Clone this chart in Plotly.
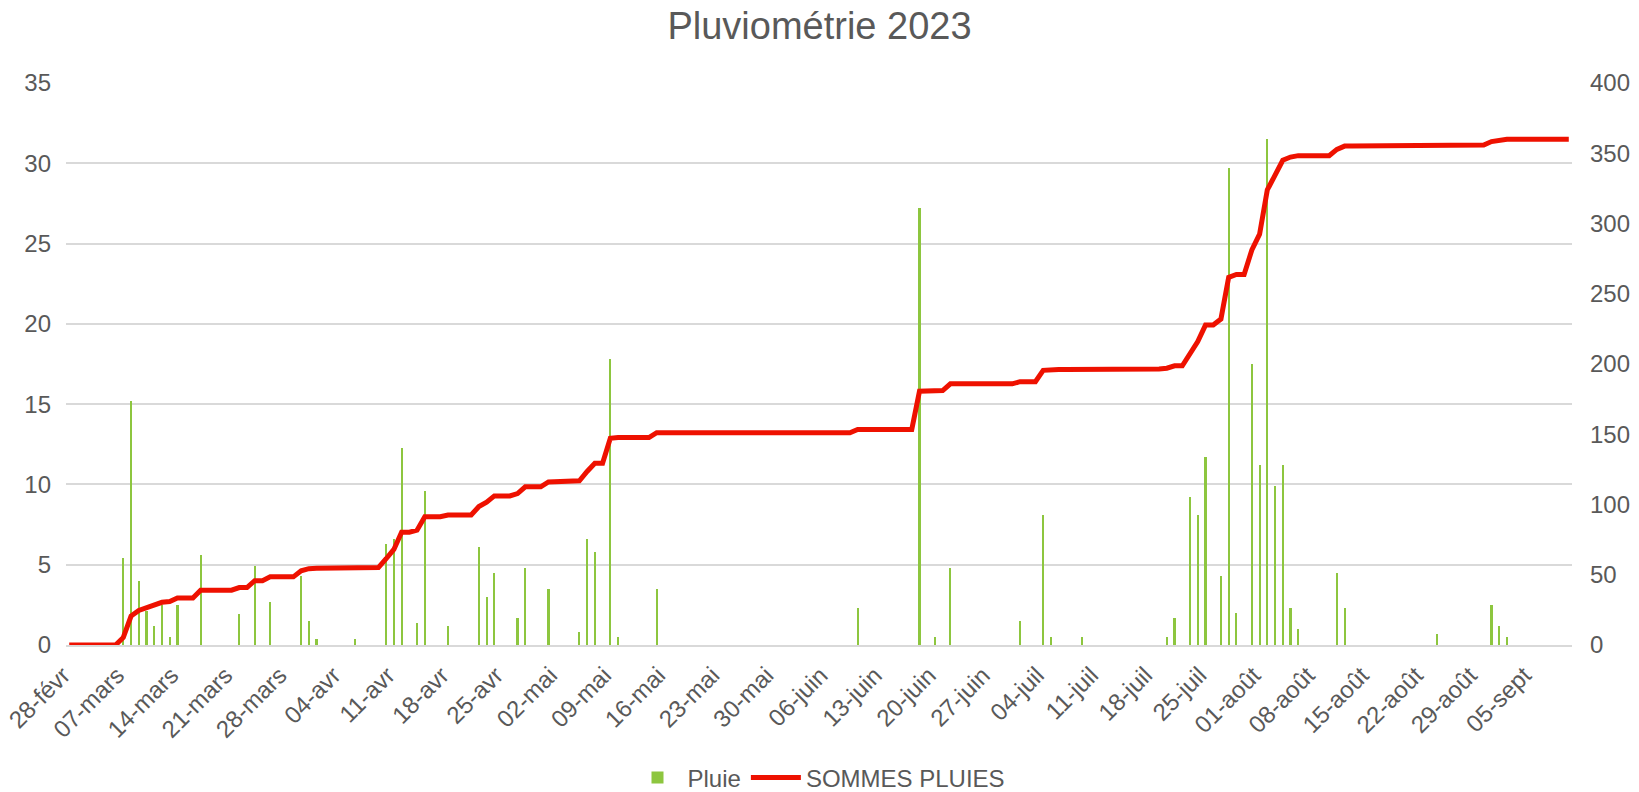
import pandas as pd
import plotly.graph_objects as go

# ---- data ----
start_date = "2023-02-28"
end_date = "2023-09-10"

rain_dates = [
    "2023-03-07", "2023-03-08", "2023-03-09", "2023-03-10", "2023-03-11", "2023-03-12",
    "2023-03-13", "2023-03-14", "2023-03-17", "2023-03-22", "2023-03-24", "2023-03-26",
    "2023-03-30", "2023-03-31",
    "2023-04-01", "2023-04-06", "2023-04-10", "2023-04-11", "2023-04-12", "2023-04-14",
    "2023-04-15", "2023-04-18", "2023-04-22", "2023-04-23", "2023-04-24", "2023-04-27",
    "2023-04-28",
    "2023-05-01", "2023-05-05", "2023-05-06", "2023-05-07", "2023-05-09", "2023-05-10",
    "2023-05-15",
    "2023-06-10", "2023-06-18", "2023-06-20", "2023-06-22",
    "2023-07-01", "2023-07-04", "2023-07-05", "2023-07-09", "2023-07-20", "2023-07-21",
    "2023-07-23", "2023-07-24", "2023-07-25", "2023-07-27", "2023-07-28", "2023-07-29",
    "2023-07-31",
    "2023-08-01", "2023-08-02", "2023-08-03", "2023-08-04", "2023-08-05", "2023-08-06",
    "2023-08-11", "2023-08-12", "2023-08-24", "2023-08-31",
    "2023-09-01", "2023-09-02",
]
rain_mm = [
    5.4, 15.2, 4.0, 2.1, 1.2, 2.5,
    0.5, 2.5, 5.6, 1.9, 4.9, 2.7,
    4.3, 1.5,
    0.4, 0.4, 6.3, 6.6, 12.3, 1.4,
    9.6, 1.2, 6.1, 3.0, 4.5, 1.7,
    4.8,
    3.5, 0.8, 6.6, 5.8, 17.8, 0.5,
    3.5,
    2.3, 27.2, 0.5, 4.8,
    1.5, 8.1, 0.5, 0.5, 0.5, 1.7,
    9.2, 8.1, 11.7, 4.3, 29.7, 2.0,
    17.5,
    11.2, 31.5, 9.9, 11.2, 2.3, 1.0,
    4.5, 2.3, 0.7, 2.5,
    1.2, 0.5,
]

tick_labels = [
    "28-févr", "07-mars", "14-mars", "21-mars", "28-mars", "04-avr", "11-avr",
    "18-avr", "25-avr", "02-mai", "09-mai", "16-mai", "23-mai", "30-mai",
    "06-juin", "13-juin", "20-juin", "27-juin", "04-juil", "11-juil", "18-juil",
    "25-juil", "01-août", "08-août", "15-août", "22-août", "29-août", "05-sept",
]

# ---- build the daily series ----
days = pd.date_range(start_date, end_date, freq="D")
pluie = pd.Series(0.0, index=days)
pluie[pd.to_datetime(rain_dates)] = rain_mm
sommes = pluie.cumsum()

tick_vals = pd.date_range(start_date, periods=len(tick_labels), freq="7D")

GREEN = "#8DC63F"
RED = "#EE1100"
TEXT = "#595959"
GRID = "#D9D9D9"
FONT = "Liberation Sans, Arial, sans-serif"

fig = go.Figure()
fig.add_trace(go.Bar(
    x=days, y=pluie.values, name="Pluie",
    marker=dict(color=GREEN, line=dict(width=0)),
    width=0.28 * 86400000,
))
fig.add_trace(go.Scatter(
    x=days, y=sommes.values, name="SOMMES PLUIES", yaxis="y2",
    mode="lines", line=dict(color=RED, width=5),
))

pad = pd.Timedelta(hours=10)
fig.update_layout(
    width=1639, height=792,
    margin=dict(l=66, r=67, t=83, b=147, autoexpand=False),
    paper_bgcolor="white", plot_bgcolor="white",
    font=dict(family=FONT, color=TEXT, size=24),
    title=dict(text="Pluviométrie 2023", x=0.5, xanchor="center",
               y=1 - 26 / 792, yanchor="middle", yref="container",
               font=dict(size=38, color=TEXT, family=FONT)),
    xaxis=dict(
        type="date", automargin=False,
        range=[days[0] - pad, days[-1] + pad],
        tickvals=tick_vals, ticktext=tick_labels, tickangle=-45,
        showgrid=False, showline=True, linecolor=GRID, linewidth=1.5,
        ticks="", tickfont=dict(size=24, color=TEXT),
        ticklabelshift=-6, ticklabelstandoff=5,
        zeroline=False,
    ),
    yaxis=dict(
        automargin=False,
        range=[0, 35], dtick=5, showgrid=True, gridcolor=GRID, gridwidth=1.5,
        zeroline=False, showline=False, ticks="", ticklabelstandoff=14,
        tickfont=dict(size=24, color=TEXT),
    ),
    yaxis2=dict(
        automargin=False,
        range=[0, 400], dtick=50, overlaying="y", side="right",
        showgrid=False, zeroline=False, showline=False, ticks="",
        ticklabelstandoff=17, tickfont=dict(size=24, color=TEXT),
    ),
    legend=dict(orientation="h", x=0.5, xanchor="center",
                y=14 / 792, yanchor="middle", yref="container",
                font=dict(size=24, color=TEXT), itemwidth=50,
                bgcolor="rgba(0,0,0,0)"),
    bargap=0,
    showlegend=True,
)

fig.write_html(
    "out.html",
    config={"displayModeBar": False},
    post_script="document.body.style.margin='0px';document.body.style.overflow='hidden';",
)
